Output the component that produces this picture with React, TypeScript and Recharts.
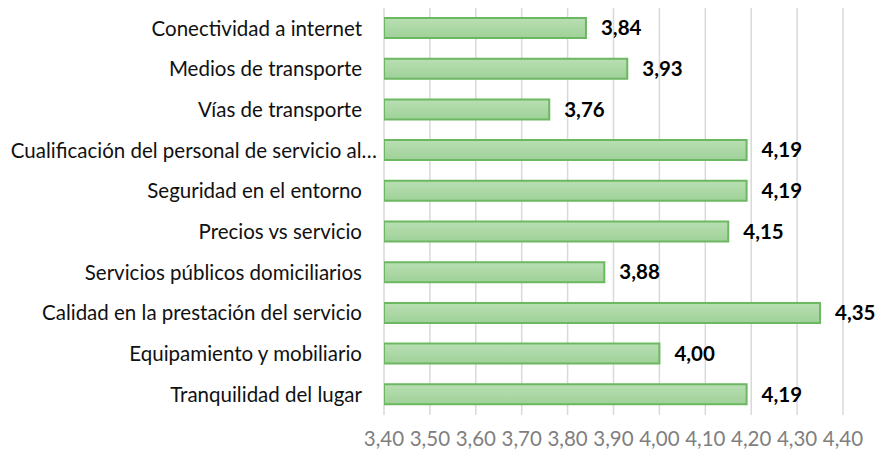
import { BarChart, Bar, XAxis, YAxis, CartesianGrid, LabelList } from 'recharts';

const categories = [
  'Conectividad a internet',
  'Medios de transporte',
  'Vías de transporte',
  'Cualificación del personal de servicio al…',
  'Seguridad en el entorno',
  'Precios vs servicio',
  'Servicios públicos domiciliarios',
  'Calidad en la prestación del servicio',
  'Equipamiento y mobiliario',
  'Tranquilidad del lugar'
];

const scores = [3.84, 3.93, 3.76, 4.19, 4.19, 4.15, 3.88, 4.35, 4.0, 4.19];

const xTicks = [3.4, 3.5, 3.6, 3.7, 3.8, 3.9, 4.0, 4.1, 4.2, 4.3, 4.4];

const data = categories.map((name, i) => ({ name, value: scores[i] }));

const fmt = (v: number) => v.toFixed(2).replace('.', ',');

const FONT = 'Lato, "Open Sans", sans-serif';

// truncated label sits a bit further right, like Excel does it
function CategoryTick(props: any) {
  const { x, y, payload } = props;
  const shift = String(payload.value).endsWith('…') ? 15 : 0;
  return (
    <text
      x={x + shift}
      y={y}
      dy="0.35em"
      textAnchor="end"
      fill="#111"
      fontSize={20.5}
      fontFamily={FONT}
    >
      {payload.value}
    </text>
  );
}

export default function App() {
  return (
    <div style={{ position: 'absolute', left: 0, top: 0, background: '#fff' }}>
      <BarChart
        width={876}
        height={455}
        data={data}
        layout="vertical"
        margin={{ top: 8, right: 33, bottom: 0, left: 0 }}
        barSize={20}
      >
        <defs>
          <linearGradient id="barFill" x1="0" y1="0" x2="0" y2="1">
            <stop offset="0%" stopColor="#b9dfb3" />
            <stop offset="100%" stopColor="#9fd198" />
          </linearGradient>
        </defs>
        <CartesianGrid horizontal={false} stroke="#d9d9d9" strokeWidth={1.5} />
        <XAxis
          type="number"
          domain={[3.4, 4.4]}
          ticks={xTicks}
          allowDataOverflow
          axisLine={false}
          tickLine={false}
          tickSize={0}
          tickMargin={16}
          height={40}
          tickFormatter={fmt}
          tick={{ fill: '#7f7f7f', fontSize: 20.5, fontFamily: FONT }}
        />
        <YAxis
          type="category"
          dataKey="name"
          width={384}
          axisLine={false}
          tickLine={false}
          tickSize={0}
          tickMargin={22}
          interval={0}
          tick={<CategoryTick />}
        />
        <Bar
          dataKey="value"
          fill="url(#barFill)"
          stroke="#6cb862"
          strokeWidth={2}
          isAnimationActive={false}
        >
          <LabelList
            dataKey="value"
            position="right"
            offset={15}
            formatter={(v: any) => fmt(Number(v))}
            style={{ fill: '#000', fontSize: 20.5, fontWeight: 700, fontFamily: FONT }}
          />
        </Bar>
      </BarChart>
    </div>
  );
}
